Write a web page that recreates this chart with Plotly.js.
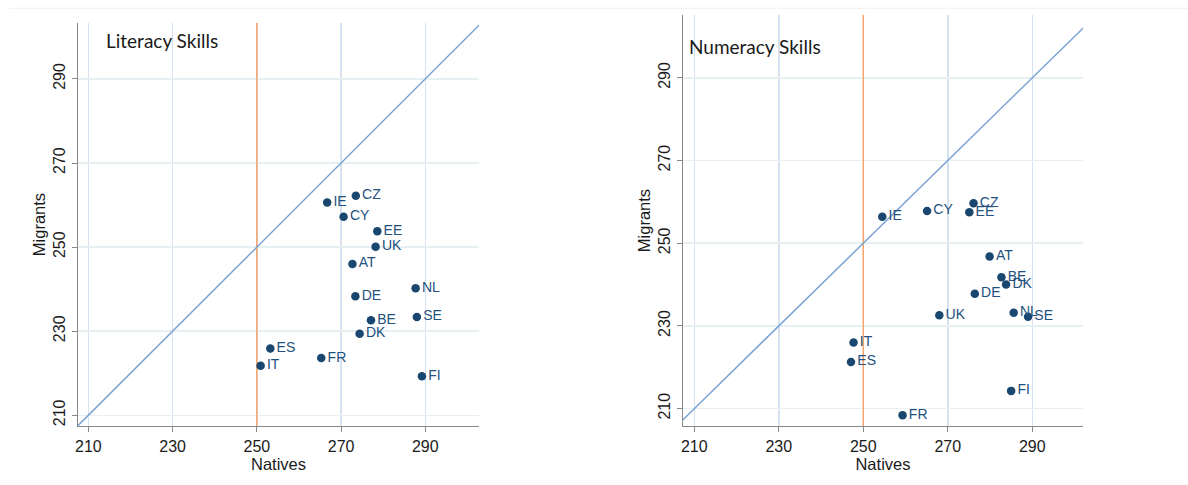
<!DOCTYPE html>
<html>
<head>
<meta charset="utf-8">
<script src="https://cdn.plot.ly/plotly-3.0.1.min.js"></script>
<style>
  html, body { margin: 0; padding: 0; background: #fff; }
  #chart { width: 1188px; height: 485px; }
</style>
</head>
<body>
<div id="chart"></div>
<script>
// PIAAC scores, natives vs migrants, by country
var countries = ['AT', 'BE', 'CY', 'CZ', 'DE', 'DK', 'EE', 'ES', 'FI', 'FR', 'IE', 'IT', 'NL', 'SE', 'UK'];
var literacyNatives  = [272.7, 277.1, 270.6, 273.5, 273.4, 274.4, 278.6, 253.2, 289.2, 265.3, 266.7, 250.9, 287.7, 288.0, 278.2];
var literacyMigrants = [246.0, 232.6, 257.2, 262.2, 238.3, 229.4, 253.8, 225.9, 219.3, 223.6, 260.6, 221.8, 240.2, 233.4, 250.1];
var numeracyNatives  = [279.9, 282.7, 265.1, 276.1, 276.4, 283.8, 275.1, 247.1, 285.0, 259.3, 254.5, 247.7, 285.6, 289.0, 268.0];
var numeracyMigrants = [246.8, 241.8, 257.8, 259.7, 237.8, 240.0, 257.5, 221.3, 214.3, 208.4, 256.4, 226.0, 233.2, 232.2, 232.6];

var tickValues = [210, 230, 250, 270, 290];
var refLine = [200, 310];      // 45 degree line, natives = migrants
var averageScore = [250, 250]; // vertical reference line at 250

var navy = '#1a476f';
var sans = 'Liberation Sans, Arial, sans-serif';
var tickFont = { family: sans, size: 16, color: '#1a1a1a' };

function pointTrace(xs, ys, xa, ya) {
    return {
        x: xs, y: ys, text: countries,
        xaxis: xa, yaxis: ya,
        mode: 'markers+text', type: 'scatter',
        textposition: 'middle right',
        textfont: { family: sans, size: 14, color: '#24507d' },
        marker: { size: 8.5, color: navy },
        cliponaxis: false,
        hoverinfo: 'skip'
    };
}

function lineTrace(xs, ys, colour, xa, ya) {
    return {
        x: xs, y: ys, xaxis: xa, yaxis: ya,
        mode: 'lines', type: 'scatter',
        line: { color: colour, width: 1.5 },
        hoverinfo: 'skip'
    };
}

function xAxis(dom, range, anchor) {
    return {
        domain: dom, range: range, anchor: anchor,
        tickvals: tickValues, ticks: 'outside', ticklen: 5, tickcolor: '#888',
        tickfont: tickFont,
        showline: true, linecolor: '#888', linewidth: 1.3,
        showgrid: true, gridcolor: '#d6e2f0', gridwidth: 1.5,
        zeroline: false,
        title: { text: 'Natives', font: { family: sans, size: 16.5, color: '#1a1a1a' }, standoff: 0 }
    };
}

function yAxis(dom, range, anchor) {
    return {
        domain: dom, range: range, anchor: anchor,
        tickvals: tickValues, ticks: 'outside', ticklen: 5, tickcolor: '#888',
        tickfont: tickFont, tickangle: -90,
        showline: true, linecolor: '#888', linewidth: 1.3,
        showgrid: true, gridcolor: '#e6eff1', gridwidth: 1.5,
        zeroline: false,
        title: { text: 'Migrants', font: { family: sans, size: 16.5, color: '#1a1a1a' }, standoff: 1 }
    };
}

var data = [
    lineTrace(averageScore, refLine, '#f5a46c', 'x', 'y'),
    lineTrace(refLine, refLine, '#7aa3d3', 'x', 'y'),
    pointTrace(literacyNatives, literacyMigrants, 'x', 'y'),
    lineTrace(averageScore, refLine, '#f5a46c', 'x2', 'y2'),
    lineTrace(refLine, refLine, '#7aa3d3', 'x2', 'y2'),
    pointTrace(numeracyNatives, numeracyMigrants, 'x2', 'y2')
];

var layout = {
    width: 1188, height: 485,
    margin: { l: 0, r: 0, t: 0, b: 0 },
    paper_bgcolor: '#fff', plot_bgcolor: '#fff',
    showlegend: false,
    xaxis: xAxis([0.0657, 0.4032], [207.55, 302.75], 'y'),
    yaxis: yAxis([0.1216, 0.9526], [207.45, 303.3], 'x'),
    xaxis2: xAxis([0.5749, 0.9116], [207.33, 302.0], 'y2'),
    yaxis2: yAxis([0.1216, 0.9691], [205.8, 305.2], 'x2'),
    shapes: [
        { type: 'line', xref: 'paper', yref: 'paper', x0: 0.008, x1: 1, y0: 0.983, y1: 0.983,
          line: { color: '#f0f0f0', width: 1 } }
    ],
    annotations: [
        { text: 'Literacy Skills', xref: 'paper', yref: 'paper', x: 104 / 1188, y: 1 - 40 / 485,
          xanchor: 'left', yanchor: 'middle', showarrow: false,
          font: { family: 'Lato, Open Sans, sans-serif', size: 19, color: '#1a1a1a' } },
        { text: 'Numeracy Skills', xref: 'paper', yref: 'paper', x: 687 / 1188, y: 1 - 46 / 485,
          xanchor: 'left', yanchor: 'middle', showarrow: false,
          font: { family: 'Lato, Open Sans, sans-serif', size: 19, color: '#1a1a1a' } }
    ]
};

Plotly.newPlot('chart', data, layout, { staticPlot: true });
</script>
</body>
</html>
